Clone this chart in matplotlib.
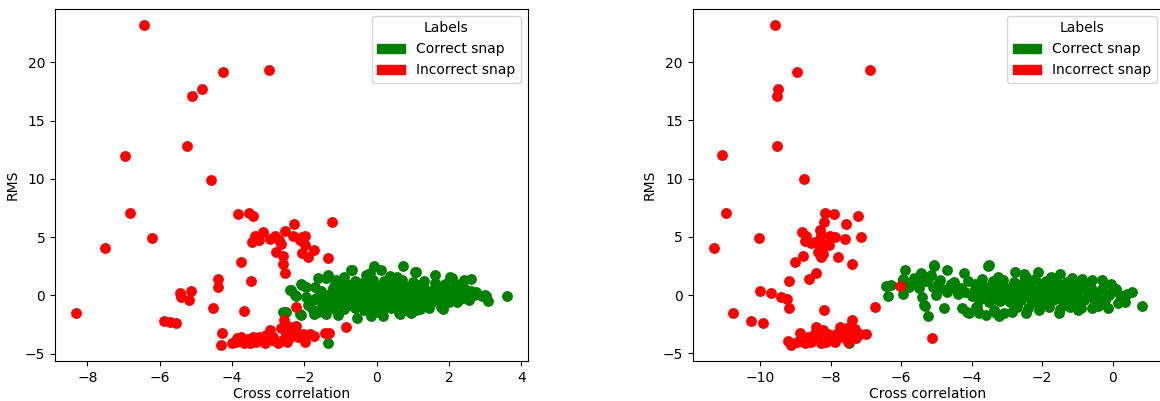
import matplotlib.pyplot as plt
import matplotlib.patches as mpatches

# Left panel - correct snaps (green)
left_green_x = [
    -2.6, -2.5, -2.41, -2.24, -2.11, -2.06, -1.95, -1.95, -1.9, -1.71, -1.67, -1.63, -1.76, -1.63, -1.44,
    -1.39, -1.35, 3.59, -0.68, -0.06, 0.13, 0.73, 1.1, 1.61, 2.07, 2.41, 2.6, 2.76, 2.9, 3.02, 3.08, 2.44,
    2.21, 1.84, 0.62, 0.18, -0.15, -0.54, 0.91, -1.07, -1.39, -1.72, -1.12, -0.93, -0.29, -0.19, 0.36, 0.55,
    -2.36, -2.27, -2.09, -1.76, -1.49, -2.09, -1.16, -1.02, -0.89, 0.64, 1.05, 2.02, 2.35, 2.99, 2.55, 1.79,
    1.1, 0.64, -0.7, -1.35,
    -0.9, -0.6, -0.4, -0.1, 0.2, 0.45, 0.7, 1.0, 1.3, 1.6, 1.9, 2.2,
    -1.2, -0.95, -0.7, -0.45, -0.2, 0.05, 0.3, 0.55, 0.8, 1.05, 1.3, 1.55, 1.8, 2.05, 2.6,
    -1.3, -1.05, -0.8, -0.55, -0.3, -0.05, 0.2, 0.45, 0.7, 0.95, 1.2, 1.45, 1.7, 1.95, 2.2, 2.45,
    -1.25, -1.0, -0.75, -0.5, -0.25, 0.0, 0.25, 0.5, 0.75, 1.0, 1.25, 1.5, 1.75, 2.0,
    -1.2, -0.9, -0.6, -0.35, -0.1, 0.15, 0.4, 0.65, 0.9, 1.2, 1.45,
    -0.8, -0.3, 0.2, 0.6, 1.15, 1.7,
    -0.6, -0.1, 0.35, 0.85, 1.35, 1.9,
    -0.9, -0.4, 0.1, 0.6, 1.1, 1.6, 2.3,
    -0.7, -0.2, 0.3, 0.8, 1.3,
    -1.55, -1.2, -0.5, 0.0, 0.4, 0.9, 1.4, 1.75, 2.15, 2.7, -1.0, -0.2, 0.5, 1.2, 1.85, -1.5, 0.05, 0.95,
]
left_green_y = [
    -1.43, -1.43, 0.49, -0.09, -1.63, 0.86, 0.71, -0.14, -0.86, 0.71, -0.2, 1.51, -1.29, -1.43, -1.23,
    1.51, -4.06, -0.06, 2.14, 2.49, 2.14, 2.49, 2.0, 1.71, 1.51, 1.34, 1.43, 0.28, -0.09, -0.09, -0.51, 0.57,
    -0.57, -1.14, -1.51, -1.8, -1.8, -1.94, -1.43, -1.71, -1.57, -1.63, 1.34, 1.34, 1.71, 1.91, 1.63, 1.57,
    0.43, 0.0, 1.0, -0.43, -0.14, -1.71, 1.0, 0.43, 1.57, -1.43, 2.0, 1.57, 0.57, 0.0, -0.43, -1.0,
    -1.29, -1.57, 2.2, 1.71,
    1.15, 1.25, 1.1, 1.3, 1.2, 1.05, 1.3, 1.15, 1.25, 1.1, 1.0, 0.95,
    0.65, 0.55, 0.7, 0.6, 0.5, 0.75, 0.6, 0.5, 0.7, 0.55, 0.65, 0.5, 0.6, 0.45, 0.4,
    0.1, -0.05, 0.1, -0.1, 0.05, -0.1, 0.1, -0.05, 0.05, -0.1, 0.1, -0.05, 0.05, -0.15, 0.1, -0.2,
    -0.55, -0.7, -0.5, -0.65, -0.55, -0.7, -0.5, -0.65, -0.55, -0.7, -0.5, -0.65, -0.5, -0.6,
    -1.1, -1.2, -1.05, -1.25, -1.1, -1.3, -1.1, -1.2, -1.05, -1.2, -1.1,
    0.9, 0.85, 0.95, 0.85, 0.9, 0.8,
    0.3, 0.35, 0.25, 0.3, 0.3, 0.25,
    -0.3, -0.35, -0.25, -0.35, -0.3, -0.35, -0.3,
    -0.85, -0.9, -0.85, -0.9, -0.85,
    0.35, 0.2, -0.25, 0.45, -0.35, 0.15, -0.25, 0.25, -0.4, 0.05, -0.35, 0.75, 0.15, -0.15, 0.3, -0.8, -1.45, -1.5,
]

# Left panel - incorrect snaps (red)
left_red_x = [
    -6.43, -4.24, -2.98, -4.82, -5.12, -5.25, -6.96, -4.58,
    -6.81, -7.51, -6.21, -8.3, -3.84, -3.52, -3.41, -1.23, -2.29, -2.54, -3.15, -3.36, -3.46, -3.24,
    -2.94, -2.82, -2.69, -2.64, -2.32, -2.13, -1.97, -2.06, -1.99, -2.06, -1.89, -1.72, -2.78, -2.6,
    -2.6, -2.54, -1.35, -3.74, -4.4, -4.4, -3.48, -5.44, -5.13, -5.41, -5.18, -4.52, -3.66, -2.22,
    -5.89, -5.72, -5.55, -4.29, -4.31, -0.84,
    -4.0, -3.89, -3.75, -3.66, -3.56, -3.43, -3.33, -3.24, -3.15, -3.06, -2.96, -2.87, -2.73, -2.64,
    -2.55, -2.52, -2.48, -2.41, -2.22, -2.18, -2.04, -1.97, -1.84, -1.72, -1.44, -1.32,
    -3.7, -3.5, -3.2, -2.9, -2.4, -2.3, -2.6, -3.1, -3.85,
]
left_red_y = [
    23.2, 19.2, 19.3, 17.7, 17.1, 12.8, 12.0, 9.94,
    7.08, 4.03, 4.91, -1.49, 7.0, 7.05, 6.77, 6.31, 6.14, 5.51, 5.4, 5.06, 4.57, 4.77,
    4.86, 5.06, 4.77, 4.43, 5.06, 4.77, 5.06, 5.0, 4.28, 3.62, 3.28, 3.86, 3.74, 3.34,
    2.66, 1.91, 3.23, 2.89, 1.43, 0.71, 1.23, 0.23, 0.37, -0.14, -0.37, -1.11, -1.31, -1.0,
    -2.23, -2.29, -2.4, -3.23, -4.26, -2.71,
    -4.08, -4.0, -3.57, -4.08, -3.71, -3.57, -4.0, -3.57, -3.86, -3.43, -3.0, -3.57, -4.08, -2.77,
    -2.14, -3.28, -4.0, -2.71, -2.66, -3.57, -3.28, -4.0, -3.28, -3.51, -3.23, -3.23,
    -3.8, -4.1, -3.7, -3.8, -3.6, -3.0, -3.8, -4.1, -3.7,
]

# Right panel - correct snaps (green)
right_green_x = [
    -6.43, -6.29, -6.38, -5.9, -5.96, -5.96, -5.63, -5.44, -5.4, -5.32, -5.24, -5.07, -5.16, -4.78,
    -4.69, -4.22, -4.27, -4.12, -3.89, -3.79, -3.6, -3.37, -3.23, -3.09, -2.85,
    -3.53, -2.78, -2.52, -2.12, -1.49, -1.16, -0.88, -0.59, -0.31, -0.03, 0.11, 0.4, 0.54, 0.84,
    -2.47, -2.1, -1.53, -0.97, -0.59, -0.12, 0.16, 0.35, -7.47,
    -5.06, -5.44, -3.51, -5.96, -5.63, -5.21, -4.93, -4.59, -5.35, -4.08, -3.84, -3.32,
    -4.97, -4.69, -4.45, -5.77, -5.49,
    -5.3, -4.9, -4.5, -4.1, -3.7, -3.4, -3.1, -2.8, -2.5, -2.2, -1.9, -1.6, -1.3, -1.0,
    -5.5, -5.1, -4.7, -4.3, -3.9, -3.6, -3.3, -3.0, -2.7, -2.4, -2.1, -1.8, -1.5, -1.2, -0.9, -0.6,
    -0.3, 0.0,
    -5.0, -4.4, -4.0, -3.7, -3.4, -3.1, -2.8, -2.5, -2.2, -1.9, -1.6, -1.3, -1.0, -0.7, -0.4, -0.1, 0.2,
    -3.8, -3.5, -3.2, -2.9, -2.6, -2.3, -2.0, -1.7, -1.4, -1.1, -0.8, -0.5, -0.2,
    -2.7, -2.4, -2.1, -1.8, -1.5, -1.2, -0.9, -0.4,
    -4.6, -3.9, -3.2, -2.6, -2.0, -1.4, -0.8,
    -4.2, -3.5, -2.9, -2.3, -1.7, -1.1, -0.5,
    -3.6, -3.0, -2.4, -1.8, -1.2, -0.6,
    -3.75, -3.45, -3.15, -2.65, -2.35, -1.95, -1.65, -1.35, -3.3, -2.75, -2.15, -1.55, -3.9, -3.25,
    -2.45, -1.75, -4.35, -3.65, -2.95, -2.0,
]
right_green_y = [
    0.8, 0.86, -0.09, 2.14, 1.34, 0.14, 1.51, 1.91, -0.2, -0.94, -1.77, 2.49, 1.71, -1.14,
    2.14, 1.91, -1.14, -1.43, -1.0, -1.57, -1.71, -1.29, -1.8, -1.57, -1.43,
    2.49, 2.0, 1.86, 2.0, 1.86, 1.51, 1.43, 1.34, 1.34, 1.0, 0.57, 0.14, 0.28, -0.94,
    -1.57, -1.29, -1.57, -1.29, -1.14, -1.14, -0.71, -0.57, -4.08,
    2.57, 1.86, 2.57, 1.43, 1.29, 1.57, 1.14, 1.0, -0.86, -1.57, -1.0, -1.57,
    0.43, 0.28, 0.57, 0.71, 1.0,
    1.2, 1.3, 1.15, 1.25, 1.35, 1.2, 1.3, 1.15, 1.25, 1.35, 1.2, 1.3, 1.15, 1.1,
    0.6, 0.7, 0.5, 0.65, 0.55, 0.7, 0.5, 0.65, 0.55, 0.7, 0.5, 0.65, 0.55, 0.7, 0.5, 0.65,
    0.55, 0.45,
    0.0, 0.1, -0.05, 0.1, -0.1, 0.05, -0.1, 0.1, -0.05, 0.1, -0.1, 0.05, -0.05, 0.1, -0.1, 0.05, 0.0,
    -0.45, -0.55, -0.5, -0.6, -0.45, -0.55, -0.6, -0.45, -0.55, -0.6, -0.45, -0.55, -0.4,
    -1.0, -1.1, -0.95, -1.05, -1.15, -1.0, -1.1, -0.95,
    0.9, 0.95, 0.85, 0.9, 0.95, 0.85, 0.9,
    0.3, 0.35, 0.25, 0.3, 0.35, 0.25, 0.3,
    -0.25, -0.3, -0.2, -0.3, -0.25, -0.2,
    0.8, 0.2, 0.95, 0.4, 0.85, 0.25, 0.8, 0.35, -0.3, -0.2, -0.35, -0.25, 0.15, 1.55,
    1.6, 1.55, 0.5, 0.0, 0.45, -0.8,
]

# Right panel - incorrect snaps (red)
right_red_x = [
    -9.59, -8.97, -6.89, -9.51, -9.53, -9.54, -11.09, -8.77,
    -10.99, -11.32, -10.04, -10.78, -10.26, -9.92, -10.01, -9.71, -9.42, -9.25, -9.18, -9.18, -9.02,
    -8.8, -8.62, -8.41, -8.83, -8.71, -8.74, -8.55, -8.45, -8.31, -8.27, -8.33, -8.22, -8.17, -7.91,
    -8.19, -8.03, -7.89, -8.05, -8.36, -8.24, -8.27, -8.22, -7.81, -7.57, -7.23, -7.61, -7.13, -7.4,
    -8.19, -6.74, -6.03, -5.14,
    -9.21, -9.13, -8.97, -8.88, -8.74, -8.64, -8.55, -8.45, -8.41, -8.36, -8.27, -8.22, -8.14, -8.08,
    -7.98, -7.89, -7.84, -7.75, -7.66, -7.56, -7.51, -7.47, -7.39, -7.37, -7.32, -7.28, -7.18, -7.01,
]
right_red_y = [
    23.2, 19.2, 19.3, 17.7, 17.1, 12.8, 12.0, 9.94,
    7.08, 4.03, 4.91, -1.49, -2.23, -2.37, 0.37, 0.2, -0.14, -0.37, -1.14, 1.23, 2.86,
    3.34, 1.4, 1.91, 5.43, 5.06, 4.66, 4.48, 4.57, 5.57, 5.14, 4.71, 4.43, 7.05, 6.97,
    6.28, 5.06, 5.0, 4.28, 3.71, 3.91, 3.28, 3.57, 3.28, 6.11, 6.77, 4.86, 5.03, 2.66,
    -1.31, -1.0, 0.77, -3.69,
    -3.91, -4.28, -4.0, -3.28, -4.08, -3.57, -4.0, -3.28, -2.77, -3.71, -4.14, -3.0, -4.0, -3.34,
    -3.71, -4.0, -3.34, -2.77, -3.57, -3.28, -4.0, -2.71, -2.14, -3.57, -2.94, -3.71, -3.34, -3.34,
]

fig = plt.figure(figsize=(11.6, 4.01), dpi=100)
ax1 = fig.add_axes([55 / 1160, 40 / 401, 473 / 1160, 352 / 401])
# right panel runs slightly past the image edge, as in the reference crop
ax2 = fig.add_axes([692.5 / 1160, 40 / 401, 471 / 1160, 352 / 401])

panels = [
    (ax1, left_green_x, left_green_y, left_red_x, left_red_y),
    (ax2, right_green_x, right_green_y, right_red_x, right_red_y),
]
for ax, gx, gy, rx, ry in panels:
    ax.scatter(gx, gy, color='green', s=46)
    ax.scatter(rx, ry, color='red', s=46)
    ax.set_xlabel('Cross correlation', labelpad=2)
    ax.set_ylabel('RMS')
    handles = [mpatches.Patch(color='green', label='Correct snap'),
               mpatches.Patch(color='red', label='Incorrect snap')]
    ax.legend(handles=handles, title='Labels', loc='upper right')

plt.savefig('out.png', dpi=100)
